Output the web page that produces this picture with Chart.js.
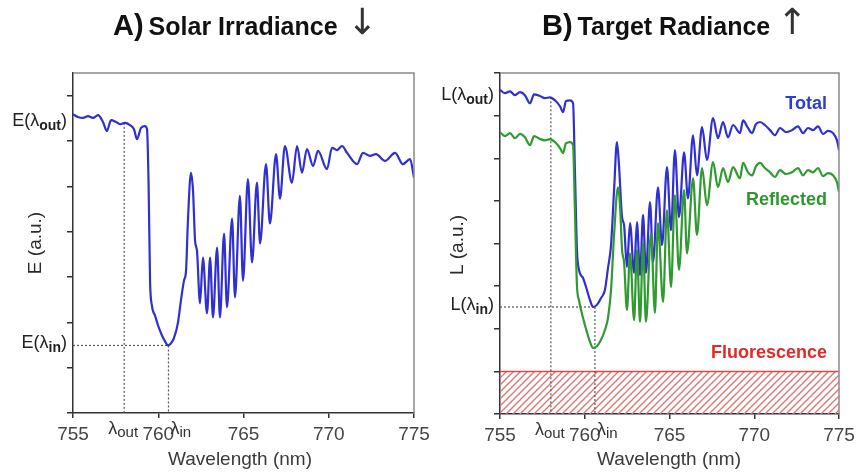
<!DOCTYPE html>
<html><head><meta charset="utf-8">
<script src="https://cdn.jsdelivr.net/npm/chart.js@4.4.1/dist/chart.umd.min.js"></script>
<style>
html,body{margin:0;padding:0;background:#fff;}
#wrap{position:relative;width:858px;height:474px;overflow:hidden;background:#fff;}
#pa{position:absolute;left:0;top:0;}
#pb{position:absolute;left:430px;top:0;}
</style></head><body>
<div id="wrap"><canvas id="pa" width="430" height="474"></canvas><canvas id="pb" width="428" height="474"></canvas></div>
<script>
// ---------- DATA ----------
const xTickValues = [755, 760, 765, 770, 775];
const leftYTicks = [0, 1, 2, 3, 4, 5, 6, 7];
const rightYTicks = [0, 1, 2, 3, 4, 5, 6, 7, 8];
const markWavelengths = [758.0, 760.6];          // lambda_out, lambda_in
const irradianceAtMarks = [6.40, 1.49];          // E(lambda_out), E(lambda_in)
const radianceAtMarks = [7.43, 2.51];            // L(lambda_out), L(lambda_in)
const fluorescenceRange = [755, 775];
const fluorescenceLevel = [1, 1];

// A) Solar irradiance
const wavelengthE = [755.00,755.29,755.59,755.88,756.17,756.47,756.76,756.99,757.23,757.52,757.76,758.05,758.34,758.58,758.75,758.99,759.22,759.34,759.43,759.52,759.63,759.81,759.99,760.22,760.40,760.57,760.75,760.92,761.16,761.33,761.51,761.63,761.74,761.92,762.04,762.16,762.27,762.45,762.62,762.86,763.04,763.21,763.45,763.62,763.86,764.03,764.33,764.50,764.79,764.97,765.26,765.50,765.79,765.97,766.32,766.55,766.91,767.14,767.43,767.84,768.14,768.43,768.72,769.08,769.37,769.90,770.19,770.49,770.78,771.07,771.66,772.01,772.42,772.77,773.30,773.89,774.35,774.77,775.00];
const irradianceE = [6.59,6.53,6.51,6.55,6.51,6.57,6.42,6.22,6.46,6.42,6.37,6.40,6.35,6.26,6.04,6.29,6.33,6.26,5.12,2.92,2.37,2.15,1.93,1.71,1.58,1.49,1.54,1.65,2.00,2.48,2.92,3.14,4.24,5.30,4.90,3.80,3.58,2.42,3.43,2.20,3.43,2.11,3.65,2.11,3.96,2.33,4.29,2.55,4.79,2.92,5.16,3.32,5.08,3.74,5.49,4.18,5.71,4.73,5.89,5.08,5.89,5.30,5.82,5.45,5.78,5.38,5.85,5.80,5.89,5.74,5.49,5.74,5.67,5.71,5.56,5.74,5.49,5.60,5.19];

// B) Target radiance
const wavelengthL = [755.00,755.29,755.59,755.88,756.18,756.47,756.77,757.01,757.36,757.65,757.95,758.24,758.54,758.72,758.89,759.13,759.31,759.42,759.54,759.66,759.90,760.13,760.31,760.49,760.72,760.96,761.19,761.37,761.55,761.73,761.90,762.02,762.20,762.32,762.49,762.67,762.91,763.08,763.26,763.44,763.61,763.85,764.03,764.32,764.56,764.85,765.09,765.32,765.56,765.86,766.09,766.39,766.62,766.92,767.21,767.57,767.86,768.16,768.45,768.75,769.16,769.34,769.63,769.87,770.10,770.34,770.63,770.93,771.22,771.52,771.87,772.23,772.58,772.88,773.17,773.47,773.76,774.06,774.35,774.65,774.88,775.00];
const totalL = [7.60,7.53,7.57,7.48,7.55,7.48,7.29,7.50,7.46,7.41,7.43,7.36,7.22,7.08,7.34,7.36,7.29,5.72,3.85,3.38,3.19,2.91,2.67,2.51,2.56,2.72,2.91,3.42,3.96,5.25,6.38,5.84,4.62,4.43,3.45,4.48,3.31,4.50,3.26,4.67,3.31,4.97,3.56,5.32,3.96,5.79,4.31,6.19,4.62,6.14,5.06,6.54,5.60,6.73,5.96,6.94,6.47,6.85,6.49,6.78,6.59,6.89,6.71,6.59,6.80,6.85,6.78,6.66,6.54,6.71,6.61,6.66,6.75,6.59,6.71,6.66,6.75,6.57,6.64,6.59,6.42,6.19];
const wavelengthR = [755.00,755.29,755.59,755.88,756.18,756.47,756.77,757.01,757.36,757.65,757.95,758.24,758.54,758.72,758.89,759.13,759.31,759.42,759.54,759.66,759.90,760.13,760.31,760.49,760.72,760.96,761.19,761.37,761.55,761.73,761.96,762.08,762.20,762.32,762.49,762.67,762.91,763.08,763.26,763.44,763.61,763.91,764.14,764.32,764.62,764.85,765.09,765.32,765.56,765.86,766.03,766.39,766.62,766.92,767.21,767.57,767.86,768.16,768.45,768.75,769.16,769.34,769.63,769.87,770.10,770.34,770.63,770.93,771.22,771.52,771.87,772.23,772.58,772.88,773.17,773.47,773.76,774.06,774.35,774.65,774.88,775.00];
const reflectedL = [6.61,6.52,6.59,6.47,6.57,6.49,6.31,6.52,6.45,6.42,6.45,6.38,6.24,6.12,6.35,6.38,6.31,4.78,3.02,2.67,2.25,1.92,1.69,1.55,1.59,1.74,1.97,2.25,2.91,4.20,5.32,4.90,3.85,3.56,2.44,3.77,2.20,3.85,2.16,4.01,2.16,4.24,2.37,4.48,2.63,4.78,2.98,5.13,3.38,5.25,3.77,5.53,4.20,5.77,4.90,5.91,5.32,5.77,5.44,5.79,5.53,5.89,5.67,5.60,5.81,5.89,5.77,5.67,5.56,5.72,5.63,5.67,5.77,5.60,5.72,5.67,5.77,5.58,5.65,5.60,5.44,5.21];

// ---------- HELPERS ----------
const FONT = 'Liberation Sans';
const pts = (xs, ys) => xs.map((x, i) => ({x: x, y: ys[i]}));

function hatchPattern(ctx) {
  const s = 7;
  const c = document.createElement('canvas'); c.width = s; c.height = s;
  const g = c.getContext('2d');
  g.strokeStyle = '#e27272'; g.lineWidth = 1.3;
  g.beginPath();
  g.moveTo(-1, s + 1); g.lineTo(s + 1, -1);
  g.moveTo(-2, 2); g.lineTo(2, -2);
  g.moveTo(s - 2, s + 2); g.lineTo(s + 2, s - 2);
  g.stroke();
  return ctx.createPattern(c, 'repeat');
}

function drawParts(ctx, parts, x, y, align, color) {
  let total = 0;
  parts.forEach(p => { ctx.font = p.font; p.w = ctx.measureText(p.t).width; total += p.w + (p.gap || 0); });
  let cx = align === 'right' ? x - total : (align === 'center' ? x - total / 2 : x);
  ctx.textBaseline = 'middle'; ctx.textAlign = 'left'; ctx.fillStyle = color;
  parts.forEach(p => { ctx.font = p.font; ctx.fillText(p.t, cx, y + (p.dy || 0)); cx += p.w + (p.gap || 0); });
}

function symLabel(letter, sub) {
  return [
    {t: letter + '(\u03BB', font: '18px "' + FONT + '"'},
    {t: sub, font: 'bold 14px "' + FONT + '"', dy: 5},
    {t: ')', font: '18px "' + FONT + '"'}
  ];
}

const annotPlugin = {
  id: 'annot',
  afterDraw(chart, args, o) {
    const ctx = chart.ctx, a = chart.chartArea;
    const xs = chart.scales.x, ys = chart.scales.y;
    ctx.save();
    // frame (top & right)
    ctx.strokeStyle = '#8a8a8a'; ctx.lineWidth = 1.5;
    ctx.beginPath(); ctx.moveTo(a.left, a.top); ctx.lineTo(a.right, a.top); ctx.lineTo(a.right, a.bottom); ctx.stroke();
    // title
    drawParts(ctx, [
      {t: o.titleLetter, font: 'bold 29px "' + FONT + '"', gap: 5},
      {t: o.titleText, font: 'bold 25px "' + FONT + '"', dy: 1}
    ], o.titleX, 27, 'left', '#111');
    ctx.font = '36px "DejaVu Sans"'; ctx.fillStyle = '#333'; ctx.textAlign = 'center'; ctx.textBaseline = 'middle';
    ctx.fillText(o.arrow, o.arrowX, 25);
    // y labels at marked values
    o.yMarks.forEach((v, i) => {
      drawParts(ctx, symLabel(o.symbol, i === 0 ? 'out' : 'in'), a.left - 6, ys.getPixelForValue(v) - 2, 'right', '#222');
    });
    // x labels lambda_out / lambda_in
    const lx0 = xs.getPixelForValue(markWavelengths[0]);
    const lx1 = xs.getPixelForValue(markWavelengths[1]);
    const ly = a.bottom + 16;
    drawParts(ctx, [{t: '\u03BB', font: '18px "' + FONT + '"'}, {t: 'out', font: '15px "' + FONT + '"', dy: 4}], lx0 - 1, ly, 'center', '#333');
    drawParts(ctx, [{t: '\u03BB', font: '18px "' + FONT + '"'}, {t: 'in', font: '15px "' + FONT + '"', dy: 4}], lx1 + 2, ly, 'left', '#333');
    // axis titles
    ctx.fillStyle = '#3a3a3a'; ctx.font = '19px "' + FONT + '"'; ctx.textAlign = 'center'; ctx.textBaseline = 'middle';
    ctx.fillText('Wavelength (nm)', o.xTitleX, 460);
    ctx.save(); ctx.translate(o.yTitleX, o.yTitleY); ctx.rotate(-Math.PI / 2);
    ctx.fillStyle = '#2a2a2a'; ctx.font = '19px "' + FONT + '"'; ctx.fillText(o.yTitle, 0, 0); ctx.restore();
    // series labels
    (o.seriesLabels || []).forEach(s => {
      ctx.font = 'bold 18px "' + FONT + '"'; ctx.fillStyle = s.color; ctx.textAlign = 'right'; ctx.textBaseline = 'middle';
      ctx.fillText(s.text, s.x, s.y);
    });
    ctx.restore();
  }
};

function dotted(data) {
  return {data: data, borderColor: '#555', borderWidth: 1.2, borderDash: [2, 2], pointRadius: 0, fill: false, tension: 0, order: 5};
}

function options(cfg) {
  return {
    responsive: false, animation: false, devicePixelRatio: 1,
    layout: {padding: {top: cfg.top, right: cfg.right, left: 0, bottom: 0}},
    plugins: {legend: {display: false}, tooltip: {enabled: false}, title: {display: false}, annot: cfg},
    elements: {point: {radius: 0}},
    scales: {
      x: {
        type: 'linear', min: 755, max: 775,
        afterFit: s => { s.height = cfg.xh; s.paddingLeft = 0; s.paddingRight = 0; },
        afterBuildTicks: s => { s.ticks = xTickValues.map(v => ({value: v})); },
        ticks: {font: {family: FONT, size: 19}, color: '#444', padding: 5, maxRotation: 0, autoSkip: false, callback: v => String(v)},
        grid: {display: true, drawOnChartArea: false, drawTicks: true, tickLength: 5, color: '#333', lineWidth: 1.5},
        border: {display: true, color: '#333', width: 1.5}
      },
      y: {
        type: 'linear', min: 0, max: cfg.ymax,
        afterFit: s => { s.width = cfg.yw; s.paddingTop = 0; s.paddingBottom = 0; },
        afterBuildTicks: s => { s.ticks = cfg.yTicks.map(v => ({value: v})); },
        ticks: {display: false},
        grid: {display: true, drawOnChartArea: false, drawTicks: true, tickLength: 6, color: '#333', lineWidth: 1.5},
        border: {display: true, color: '#333', width: 1.5}
      }
    }
  };
}

// ---------- CHART A ----------
new Chart(document.getElementById('pa'), {
  type: 'line',
  data: {datasets: [
    {data: pts(wavelengthE, irradianceE), borderColor: '#2f2fd2', borderWidth: 2.2, cubicInterpolationMode: 'monotone', fill: false, order: 1},
    dotted([{x: markWavelengths[0], y: irradianceAtMarks[0]}, {x: markWavelengths[0], y: 0}]),
    dotted([{x: markWavelengths[1], y: irradianceAtMarks[1]}, {x: markWavelengths[1], y: 0}]),
    dotted([{x: fluorescenceRange[0], y: irradianceAtMarks[1]}, {x: markWavelengths[1], y: irradianceAtMarks[1]}])
  ]},
  options: options({
    top: 73, right: 16, xh: 61, yw: 73, ymax: 7.5, yTicks: leftYTicks,
    titleLetter: 'A)', titleText: 'Solar Irradiance', titleX: 113, arrow: '\u2193', arrowX: 362,
    symbol: 'E', yMarks: irradianceAtMarks, xTitleX: 240, yTitle: 'E (a.u.)', yTitleX: 36, yTitleY: 243
  }),
  plugins: [annotPlugin]
});

// ---------- CHART B ----------
const ctxB = document.getElementById('pb').getContext('2d');
new Chart(ctxB, {
  type: 'line',
  data: {datasets: [
    {data: pts(fluorescenceRange, fluorescenceLevel), borderColor: '#de4a4a', borderWidth: 1.5, backgroundColor: hatchPattern(ctxB), fill: 'origin', pointRadius: 0, tension: 0, order: 9},
    {data: pts(wavelengthL, totalL), borderColor: '#2f2fd2', borderWidth: 2.2, cubicInterpolationMode: 'monotone', fill: false, order: 2},
    {data: pts(wavelengthR, reflectedL), borderColor: '#2f9a2f', borderWidth: 2.2, cubicInterpolationMode: 'monotone', fill: false, order: 1},
    dotted([{x: markWavelengths[0], y: radianceAtMarks[0]}, {x: markWavelengths[0], y: 0}]),
    dotted([{x: markWavelengths[1], y: radianceAtMarks[1]}, {x: markWavelengths[1], y: 0}]),
    dotted([{x: fluorescenceRange[0], y: radianceAtMarks[1]}, {x: markWavelengths[1], y: radianceAtMarks[1]}])
  ]},
  options: options({
    top: 73, right: 19, xh: 60, yw: 70, ymax: 8, yTicks: rightYTicks,
    titleLetter: 'B)', titleText: 'Target Radiance', titleX: 112, arrow: '\u2191', arrowX: 362,
    symbol: 'L', yMarks: radianceAtMarks, xTitleX: 239, yTitle: 'L (a.u.)', yTitleX: 28, yTitleY: 245,
    seriesLabels: [
      {text: 'Total', color: '#2d3bd6', x: 397, y: 104},
      {text: 'Reflected', color: '#2e962e', x: 397, y: 200},
      {text: 'Fluorescence', color: '#e02a2a', x: 397, y: 353}
    ]
  }),
  plugins: [annotPlugin]
});
</script>
</body></html>
